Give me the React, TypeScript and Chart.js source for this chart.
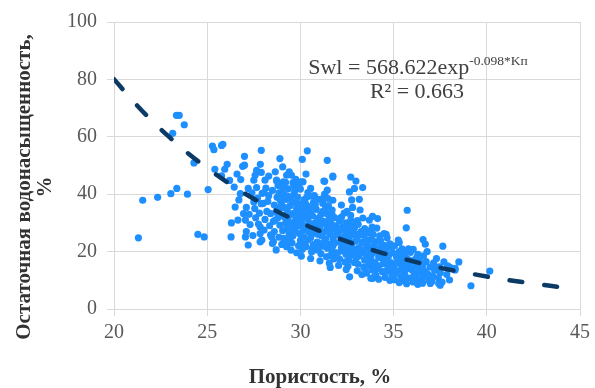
import React, { useEffect, useRef } from 'react';
import { Chart, registerables } from 'chart.js';

Chart.register(...registerables);

const xTicks = [20, 25, 30, 35, 40, 45];
const yTicks = [0, 20, 40, 60, 80, 100];

const trendX = [20, 21, 22, 23, 24, 25, 26, 27, 28, 29, 30, 31, 32, 33, 34, 35, 36, 37, 38, 39, 40, 41, 42, 43, 44];
const trendY = [80.1, 72.6, 65.8, 59.7, 54.1, 49.1, 44.5, 40.3, 36.6, 33.2, 30.1, 27.3, 24.7, 22.4, 20.3, 18.4, 16.7, 15.1, 13.7, 12.5, 11.3, 10.2, 9.3, 8.4, 7.6];

const sparseSamples: [number, number][] = [
  [21.31, 24.8], [21.54, 37.9], [22.34, 38.9], [23.05, 40.2], [23.37, 42.0], [23.94, 40.0], [23.15, 61.2],
  [23.35, 67.5], [23.5, 67.5], [23.77, 64.2], [24.29, 50.9], [24.5, 26.0], [24.84, 25.1], [25.05, 41.6],
  [25.28, 56.8], [25.36, 55.5], [25.77, 57.0], [25.84, 57.4], [25.41, 48.7], [25.94, 48.7], [26.07, 50.4],
  [25.77, 46.4], [26.28, 25.1], [26.65, 31.0], [27.05, 31.0], [27.1, 35.4], [26.8, 45.1], [27.5, 44.9],
  [26.9, 49.7], [27.0, 50.1], [27.9, 55.3], [28.9, 52.4], [27.85, 50.4], [28.1, 44.9], [28.73, 44.6],
  [29.26, 46.6], [27.05, 25.1], [27.2, 22.3], [27.84, 23.4], [27.0, 53.2], [26.78, 40.2], [27.5, 37.3],
  [27.57, 46.6], [27.84, 28.6], [27.84, 26.3], [27.93, 24.0], [28.46, 25.1], [28.55, 23.4], [29.26, 21.7],
  [30.37, 55.1], [30.1, 52.1], [31.44, 51.8], [31.74, 46.3], [31.26, 44.6], [32.7, 46.0], [32.98, 44.6],
  [32.63, 40.8], [32.9, 42.0], [33.34, 42.3], [33.16, 38.2], [31.44, 41.4], [31.48, 38.5], [31.74, 37.9],
  [30.55, 42.0], [30.64, 39.3], [30.14, 44.3], [29.52, 46.6], [32.46, 13.8], [32.64, 11.2], [33.78, 17.6],
  [33.87, 13.6], [33.87, 10.7], [35.73, 34.4], [35.68, 28.3], [36.58, 24.2], [36.7, 22.6], [37.64, 21.9],
  [38.03, 14.5], [38.0, 10.1], [37.15, 16.1], [37.42, 8.9], [33.87, 32.3], [34.14, 31.5], [34.49, 26.3],
  [40.16, 13.2], [39.15, 8.1], [38.3, 14.2], [37.5, 8.3], [37.47, 13.0], [29.08, 44.3], [28.72, 44.9],
  [29.66, 43.1], [30.05, 44.3], [31.3, 44.5], [31.74, 46.0], [38.3, 13.6], [36.97, 8.9], [36.53, 9.5],
  [36.08, 10.1], [35.55, 11.2], [33.96, 11.2], [33.78, 10.7], [38.5, 16.4],
];

const coreSamples: [number, number][] = [
  [26.3, 30.0], [26.5, 35.5], [26.7, 38.0], [26.45, 42.5], [26.95, 33.2], [26.6, 47.0], [26.2, 44.8],
  [27.1, 27.0], [27.3, 29.4], [27.25, 33.0], [27.4, 40.5], [27.6, 31.8], [27.55, 35.0], [27.7, 38.6],
  [27.65, 42.3], [27.8, 33.4], [27.75, 29.6], [27.9, 36.7], [27.95, 40.3], [27.45, 25.6], [27.9, 47.6],
  [27.2, 42.0], [27.65, 48.3],
  [28.05, 27.5], [28.1, 31.2], [28.2, 34.0], [28.0, 36.8], [28.3, 39.5], [28.15, 42.1], [28.35, 29.0],
  [28.4, 33.2], [28.25, 37.5], [28.05, 40.6], [28.3, 46.3], [28.4, 25.8],
  [28.5, 22.8], [28.6, 27.0], [28.55, 30.5], [28.7, 33.8], [28.6, 36.2], [28.75, 38.9], [28.5, 41.3],
  [28.8, 43.0], [28.65, 47.8], [28.85, 25.0], [28.9, 29.2], [28.8, 31.9], [28.95, 35.3], [28.85, 40.5], [28.7, 20.6],
  [29.0, 22.5], [29.1, 24.6], [29.05, 27.3], [29.2, 29.8], [29.15, 32.0], [29.3, 34.1], [29.0, 36.4],
  [29.25, 38.2], [29.1, 40.0], [29.35, 41.9], [29.2, 44.1], [29.4, 47.8], [29.4, 26.0], [29.35, 30.9],
  [29.45, 36.0], [29.3, 39.4], [29.5, 20.5], [29.05, 49.5],
  [29.55, 23.0], [29.6, 25.5], [29.7, 27.6], [29.55, 29.4], [29.75, 31.3], [29.6, 33.2], [29.8, 35.0],
  [29.65, 37.1], [29.85, 39.0], [29.7, 41.2], [29.9, 43.4], [29.8, 19.6], [29.9, 22.0], [29.95, 26.3],
  [29.85, 28.9], [29.95, 32.4], [29.9, 36.7], [29.75, 45.2],
  [30.05, 18.4], [30.1, 20.8], [30.0, 23.9], [30.2, 25.1], [30.15, 27.4], [30.3, 29.0], [30.05, 30.6],
  [30.25, 32.3], [30.1, 34.2], [30.35, 36.0], [30.2, 38.1], [30.4, 40.6], [30.3, 21.7], [30.4, 24.0],
  [30.45, 27.0], [30.4, 31.4], [30.45, 34.0], [30.3, 47.0],
  [30.55, 17.6], [30.6, 19.9], [30.7, 22.4], [30.55, 24.8], [30.75, 26.6], [30.6, 28.5], [30.8, 30.1],
  [30.65, 32.5], [30.85, 34.7], [30.7, 37.1], [30.9, 23.3], [30.85, 27.9], [30.95, 31.6], [30.8, 36.3], [30.9, 20.6],
  [31.05, 16.8], [31.1, 19.3], [31.0, 21.6], [31.2, 23.0], [31.15, 25.4], [31.3, 27.0], [31.05, 28.8],
  [31.25, 30.5], [31.1, 32.9], [31.35, 35.0], [31.2, 36.8], [31.4, 18.2], [31.45, 21.2], [31.35, 24.4],
  [31.4, 29.3], [31.45, 33.0], [31.3, 40.0],
  [31.55, 16.0], [31.6, 18.6], [31.7, 20.4], [31.55, 22.5], [31.75, 24.3], [31.6, 26.0], [31.8, 27.9],
  [31.65, 29.7], [31.85, 31.8], [31.7, 34.5], [31.9, 19.5], [31.85, 23.1], [31.95, 25.8], [31.9, 29.0], [31.6, 14.5],
  [32.05, 15.2], [32.1, 17.4], [32.0, 19.6], [32.2, 21.3], [32.15, 23.2], [32.3, 25.0], [32.05, 26.8],
  [32.25, 28.5], [32.1, 30.7], [32.35, 33.4], [32.2, 36.2], [32.4, 16.4], [32.45, 19.0], [32.35, 22.3],
  [32.4, 27.2], [32.45, 30.0],
  [32.55, 14.9], [32.6, 17.0], [32.7, 18.7], [32.55, 20.5], [32.75, 22.4], [32.6, 24.1], [32.8, 25.8],
  [32.65, 27.6], [32.85, 30.0], [32.7, 32.6], [32.9, 16.2], [32.85, 21.0], [32.95, 23.6], [32.9, 28.3],
  [32.8, 35.4], [32.75, 38.0],
  [33.05, 13.3], [33.1, 15.6], [33.0, 17.8], [33.2, 19.5], [33.15, 21.4], [33.3, 23.2], [33.05, 25.0],
  [33.25, 27.0], [33.1, 29.5], [33.35, 31.7], [33.4, 14.5], [33.45, 17.0], [33.35, 20.4], [33.4, 25.6],
  [33.2, 34.5], [33.3, 12.0],
  [33.55, 12.5], [33.6, 14.8], [33.7, 16.5], [33.55, 18.6], [33.75, 20.5], [33.6, 22.3], [33.8, 24.2],
  [33.65, 26.4], [33.85, 28.5], [33.7, 31.0], [33.9, 15.7], [33.85, 19.3], [33.95, 22.0], [33.9, 26.0],
  [34.05, 11.8], [34.1, 14.0], [34.0, 16.2], [34.2, 18.0], [34.15, 19.8], [34.3, 21.6], [34.05, 23.5],
  [34.25, 25.5], [34.1, 28.2], [34.4, 13.0], [34.45, 15.8], [34.35, 17.8], [34.4, 20.5], [34.3, 23.8], [34.2, 10.4],
  [34.55, 11.0], [34.6, 13.2], [34.7, 15.0], [34.55, 17.0], [34.75, 18.9], [34.6, 20.8], [34.8, 22.7],
  [34.65, 24.8], [34.9, 12.2], [34.85, 16.2], [34.95, 19.6], [34.8, 10.0], [34.9, 21.5],
  [35.05, 10.2], [35.1, 12.4], [35.0, 14.5], [35.2, 16.3], [35.15, 18.2], [35.3, 20.0], [35.05, 22.0],
  [35.25, 24.0], [35.4, 11.3], [35.45, 13.8], [35.35, 15.7], [35.4, 17.9], [35.3, 9.2], [35.45, 21.0],
  [35.55, 9.8], [35.6, 12.0], [35.7, 13.9], [35.55, 15.8], [35.75, 17.4], [35.6, 19.2], [35.8, 21.0],
  [35.9, 10.8], [35.85, 14.9], [35.95, 16.8], [35.9, 19.7], [35.7, 8.8],
  [36.05, 9.4], [36.1, 11.6], [36.0, 13.5], [36.2, 15.2], [36.15, 17.2], [36.3, 19.0], [36.05, 20.8],
  [36.4, 10.4], [36.45, 12.8], [36.35, 14.4], [36.4, 16.5], [36.3, 8.6],
  [36.55, 9.0], [36.6, 11.2], [36.7, 13.0], [36.55, 14.8], [36.75, 16.5], [36.6, 18.5], [36.9, 10.0],
  [36.85, 12.1], [36.95, 14.6], [36.8, 20.0],
  [37.05, 9.6], [37.1, 11.5], [37.2, 13.5], [37.15, 15.5], [37.3, 17.6], [37.4, 10.8], [37.5, 12.6],
  [37.45, 14.7], [37.6, 9.4], [37.7, 16.4], [37.85, 12.0], [37.9, 15.0],
];

const denseSamples: [number, number][] = [
  [28.65, 31.0], [28.75, 35.0], [28.95, 37.5], [29.15, 35.3], [29.3, 28.0], [29.45, 32.8], [29.5, 38.3],
  [29.65, 40.0], [29.8, 33.9], [29.7, 30.2], [29.55, 27.0], [29.2, 23.3], [29.45, 24.5], [29.05, 42.2],
  [29.6, 44.0], [28.9, 38.3],
  [30.15, 35.3], [30.25, 37.0], [30.35, 39.0], [30.0, 41.8], [30.5, 29.8], [30.55, 33.2], [30.7, 35.6],
  [30.75, 39.5], [30.95, 26.0], [30.6, 26.0], [30.2, 22.6], [30.1, 29.3], [30.05, 33.0], [30.85, 22.0],
  [30.65, 21.2], [30.95, 38.2],
  [31.2, 34.0], [31.1, 26.4], [31.25, 21.9], [31.5, 27.5], [31.55, 31.0], [31.7, 32.9], [31.0, 30.8],
  [31.75, 22.0], [31.5, 36.0], [31.95, 27.2], [31.8, 17.5], [31.2, 38.5],
  [32.2, 32.0], [32.5, 25.7], [32.55, 28.8], [32.3, 20.2], [32.7, 30.8], [32.15, 27.7], [32.85, 19.8],
  [32.6, 22.8], [32.95, 26.2], [32.5, 34.0],
  [33.2, 26.0], [33.5, 21.0], [33.45, 28.0], [33.55, 24.0], [33.75, 27.2], [33.15, 18.5], [33.65, 17.6],
  [33.9, 20.8], [33.05, 30.8],
  [34.3, 19.0], [34.5, 22.2], [34.7, 17.8], [34.85, 14.0], [34.2, 15.0], [34.6, 26.0],
  [35.2, 13.3], [35.5, 19.7], [35.65, 11.0], [35.8, 16.0], [36.2, 12.5], [36.25, 18.0], [35.3, 23.2], [36.5, 15.6],
];

const equationMain = 'Swl = 568.622exp';
const equationSup = '-0.098*Kп';
const rSquaredText = 'R² = 0.663';
const xTitle = 'Пористость, %';
const yTitleLines = ['Остаточная водонасыщенность,', '%'];

const SERIF = '"Liberation Serif", "Times New Roman", serif';

const textPlugin = {
  id: 'textPlugin',
  afterDraw(chart: any) {
    const ctx = chart.ctx;
    ctx.save();
    ctx.fillStyle = '#404040';
    ctx.textBaseline = 'alphabetic';
    ctx.textAlign = 'left';
    ctx.font = `22px ${SERIF}`;
    const wMain = ctx.measureText(equationMain).width;
    ctx.font = `13.5px ${SERIF}`;
    const wSup = ctx.measureText(equationSup).width;
    const cx = 418;
    const startX = cx - (wMain + wSup) / 2;
    ctx.font = `22px ${SERIF}`;
    ctx.fillText(equationMain, startX, 74);
    ctx.font = `13.5px ${SERIF}`;
    ctx.fillText(equationSup, startX + wMain, 65);
    ctx.font = `22px ${SERIF}`;
    ctx.textAlign = 'center';
    ctx.fillText(rSquaredText, 417, 98);

    ctx.fillStyle = '#333333';
    ctx.font = `bold 21px ${SERIF}`;
    ctx.textAlign = 'center';
    ctx.textBaseline = 'middle';
    ctx.fillText(xTitle, 320, 378);

    ctx.font = `bold 21px ${SERIF}`;
    ctx.translate(25, 187);
    ctx.rotate(-Math.PI / 2);
    ctx.fillText(yTitleLines[0], 0, 0);
    ctx.fillText(yTitleLines[1], 0, 21);
    ctx.restore();
  },
};

export default function App() {
  const canvasRef = useRef<HTMLCanvasElement | null>(null);

  useEffect(() => {
    if (!canvasRef.current) return;
    const allSamples = [...sparseSamples, ...coreSamples, ...denseSamples];
    const chart = new Chart(canvasRef.current, {
      type: 'scatter',
      data: {
        datasets: [
          {
            label: 'trend',
            data: trendX.map((x, i) => ({ x, y: trendY[i] })),
            showLine: true,
            borderColor: '#0b3a66',
            borderWidth: 4.5,
            borderDash: [13, 22],
            borderCapStyle: 'round',
            pointRadius: 0,
            tension: 0.4,
            fill: false,
            order: 0,
          } as any,
          {
            label: 'samples',
            data: allSamples.map(([x, y]) => ({ x, y })),
            backgroundColor: '#1e8fff',
            borderWidth: 0,
            pointRadius: 3.6,
            order: 1,
          } as any,
        ],
      },
      options: {
        animation: false,
        responsive: false,
        devicePixelRatio: 1,
        layout: { padding: { top: 22, right: 11, left: 0, bottom: 0 } },
        plugins: { legend: { display: false }, tooltip: { enabled: false } },
        scales: {
          x: {
            type: 'linear',
            min: 20,
            max: 45,
            afterBuildTicks: (scale: any) => {
              scale.ticks = xTicks.map((v) => ({ value: v }));
            },
            afterFit: (scale: any) => {
              scale.height = 79;
            },
            grid: { color: '#d9d9d9', lineWidth: 1, tickLength: 7, drawTicks: true },
            border: { color: '#d9d9d9' },
            ticks: {
              font: { family: SERIF, size: 20 },
              color: '#595959',
              padding: 5,
              maxRotation: 0,
            },
          },
          y: {
            type: 'linear',
            min: 0,
            max: 100,
            afterBuildTicks: (scale: any) => {
              scale.ticks = yTicks.map((v) => ({ value: v }));
            },
            afterFit: (scale: any) => {
              scale.width = 114;
            },
            grid: { color: '#d9d9d9', lineWidth: 1, tickLength: 7, drawTicks: true },
            border: { color: '#d9d9d9' },
            ticks: {
              font: { family: SERIF, size: 20 },
              color: '#595959',
              padding: 10,
            },
          },
        },
      },
      plugins: [textPlugin],
    });
    return () => chart.destroy();
  }, []);

  return (
    <div style={{ position: 'absolute', left: 0, top: 0, width: 595, height: 388, background: '#fff' }}>
      <canvas ref={canvasRef} width={595} height={388} style={{ display: 'block' }} />
    </div>
  );
}
